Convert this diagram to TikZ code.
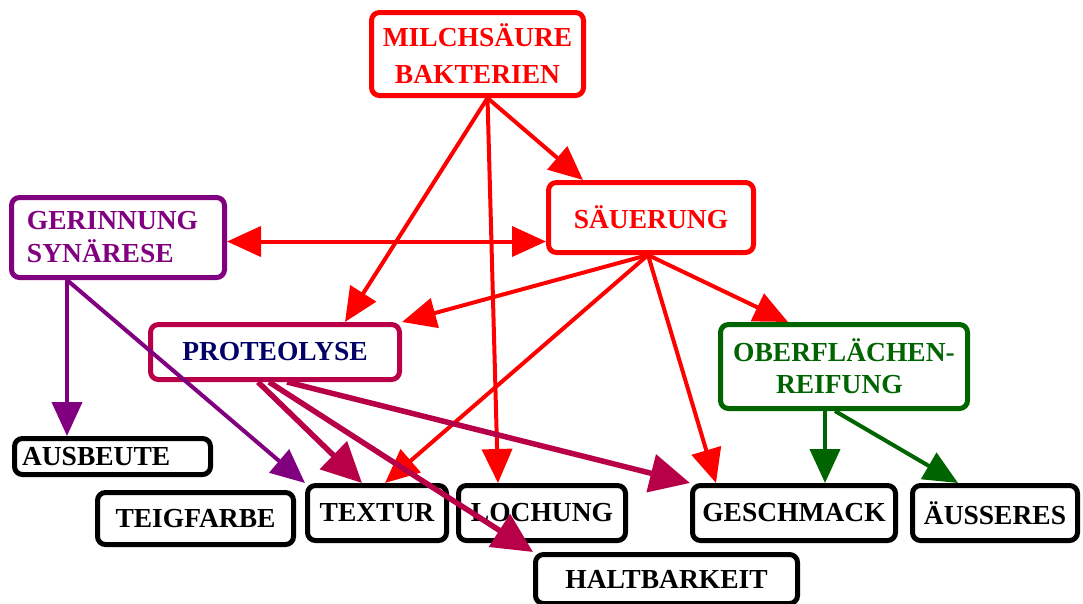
\documentclass[tikz,border=0pt]{standalone}
\usepackage{fontspec}
\setmainfont{Liberation Serif}
\usepackage{tikz}
\usetikzlibrary{arrows.meta}
\definecolor{crim}{RGB}{184,0,72}
\definecolor{navy}{RGB}{0,0,102}
\definecolor{dkgreen}{RGB}{0,100,0}
\definecolor{purp}{RGB}{128,0,128}
\tikzset{
	box/.style={draw, rounded corners=8pt, line width=5pt, fill=white, inner sep=0pt,
		font=\bfseries\fontsize{27.5}{33}\selectfont},
	redbox/.style={box, draw=red, text=red},
	blackbox/.style={box, draw=black, text=black},
	arr/.style={line width=4pt, -{Triangle[length=34pt,width=30pt]}},
	fatarr/.style={line width=5.5pt, crim, -{Triangle[length=40pt,width=38pt]}},
}

\begin{document}
\begin{tikzpicture}[x=1pt,y=-1pt]
	\useasboundingbox (0,0) rectangle (1083,603);
	% top row
	\node[redbox,minimum width=212pt,minimum height=83pt,align=center,font=\bfseries\fontsize{27.5}{37}\selectfont] at (477.5,54) (milch) {MILCHSÄURE\\BAKTERIEN};
	\node[redbox,minimum width=205pt,minimum height=70pt] at (651,217.5) (saeuer) {SÄUERUNG};
	\node[box,draw=purp,text=purp,minimum height=80pt,text width=182pt,inner xsep=15.5pt,align=left] at (118,237.5) (gerinn) {GERINNUNG\\SYNÄRESE};
	\node[box,draw=crim,text=navy,minimum width=249pt,minimum height=55pt] at (275,352) (proteo) {PROTEOLYSE};
	\node[box,draw=dkgreen,text=dkgreen,minimum width=247pt,minimum height=84pt,align=center,font=\bfseries\fontsize{27.5}{32}\selectfont] at (844,366.5) (oberfl) {OBERFLÄCHEN-\\REIFUNG\,\,};
	% results
	\node[blackbox,minimum height=36pt,text width=181pt,inner xsep=7.5pt,align=left] at (112.5,456.5) (ausbeute) {AUSBEUTE};
	\node[blackbox,minimum width=196pt,minimum height=52pt] at (195.5,518.5) (teig) {TEIGFARBE};
	\node[blackbox,minimum width=139pt,minimum height=55pt] at (377,513) (textur) {TEXTUR};
	\node[blackbox,minimum width=167pt,minimum height=55pt] at (542,513) (lochung) {LOCHUNG};
	\node[blackbox,minimum width=262pt,minimum height=49pt] at (666.5,579) (haltbar) {HALTBARKEIT};
	\node[blackbox,minimum width=203pt,minimum height=55pt] at (794,513) (geschmack) {GESCHMACK};
	\node[blackbox,minimum width=165pt,minimum height=55pt] at (995,513) (aeusseres) {ÄUSSERES};
	% red arrows
	\draw[arr,red] ([xshift=10pt]milch.south) -- ([xshift=37pt]saeuer.north west);
	\draw[arr,red] ([xshift=10pt]milch.south) -- ([xshift=70pt]proteo.north);
	\draw[arr,red] ([xshift=10pt]milch.south) -- ([xshift=-44pt]lochung.north);
	\draw[arr,red] ([xshift=-3pt]saeuer.south) -- (proteo.north east);
	\draw[arr,red] ([xshift=-3pt]saeuer.south) -- ([xshift=8pt]textur.north);
	\draw[arr,red] ([xshift=-3pt]saeuer.south) -- ([xshift=26pt]geschmack.north west);
	\draw[arr,red] ([xshift=-3pt]saeuer.south) -- ([xshift=70pt]oberfl.north west);
	\draw[line width=4pt,red,{Triangle[length=34pt,width=30pt]}-{Triangle[length=34pt,width=30pt]}] ([yshift=-4pt]gerinn.east) -- ([yshift=-4pt]gerinn.east -| saeuer.west);
	% purple arrows
	\coordinate (gs) at ([xshift=58pt]gerinn.south west);
	\draw[arr,purp] (gs) -- (gs |- ausbeute.north);
	\draw[arr,purp] (gs) -- (textur.north west);
	% proteolyse
	\draw[fatarr] ([xshift=-17pt]proteo.south) -- ([xshift=-15pt]textur.north);
	\draw[fatarr] ([xshift=-6pt]proteo.south) -- (haltbar.north west);
	\draw[fatarr] ([xshift=12pt]proteo.south) -- (geschmack.north west);
	% green arrows
	\coordinate (os) at ([xshift=-19pt]oberfl.south);
	\draw[arr,dkgreen] (os) -- (os |- geschmack.north);
	\draw[arr,dkgreen] ([xshift=-9pt]oberfl.south) -- ([xshift=48pt]aeusseres.north west);
\end{tikzpicture}
\end{document}
